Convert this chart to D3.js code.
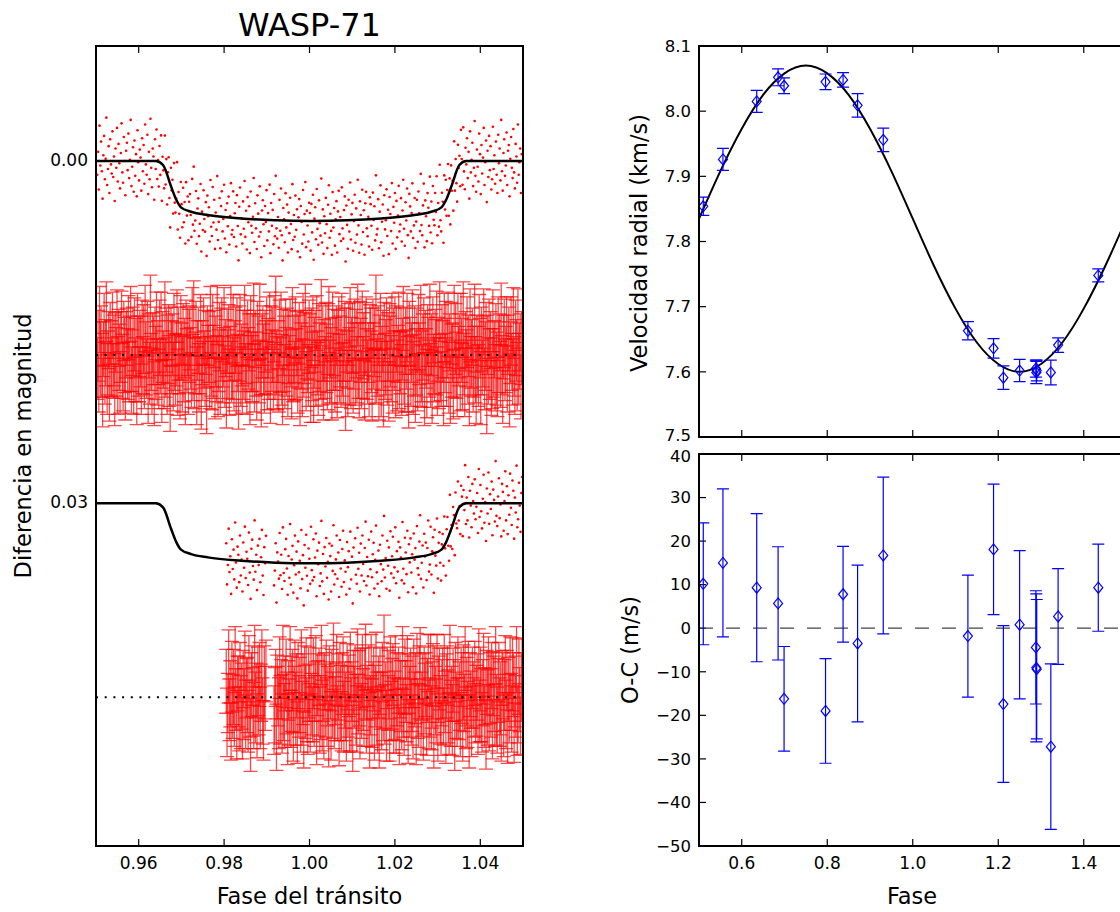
<!DOCTYPE html>
<html><head><meta charset="utf-8">
<script src="https://cdn.jsdelivr.net/npm/d3@7"></script>
<style>body{margin:0;background:#fff} svg{display:block} text{font-family:"DejaVu Sans",sans-serif;fill:#000}</style>
</head><body><svg id="c" width="1120" height="912"></svg>
<script>
// ---------------- DATA ----------------
// Left panel: transit model (phase, magnitude difference)
const modelPhase = [0.950,0.9640,0.9657,0.9676,0.9688,0.9699,0.9723,0.9762,0.9840,0.9920,1.0004,1.0088,1.0168,1.0246,1.0285,1.0309,1.0320,1.0332,1.0351,1.0367,1.050];
const modelMag   = [0,0,0.00035,0.00225,0.0034,0.00406,0.00445,0.00474,0.00503,0.0052,0.00526,0.0052,0.00503,0.00474,0.00445,0.00406,0.0034,0.00225,0.00035,0,0];
const curveOffsets = [0, 0.03];          // vertical offsets of the two light curves
const residOffsets = [0.017, 0.047];     // dotted reference lines of the residual bands
// phase coverage of each light curve (segments)
const topSegments = [[0.9503, 1.0497]];
const lowSegments = [[0.9805, 0.9898], [0.9917, 1.0498]];
// residuals (units of 1e-4 mag), read as scatter about the model
const topResid = [
12,-8,25,-31,4,-17,9,33,-5,-22,16,-2,-38,21,7,-13,28,-19,3,11,
-26,14,-4,35,-11,6,-29,18,-15,2,24,-7,-33,10,19,-21,0,30,-9,-16,
8,-24,15,-1,-36,22,5,-12,27,-18,13,-6,31,-27,1,17,-10,-3,26,-20,
9,-14,20,-32,3,12,-23,29,-8,16,-37,6,23,-11,-4,34,-19,7,-28,15,
-2,21,-15,10,-25,32,-7,4,18,-30,11,-13,25,-5,-20,14,38,-16,2,-9,
19,-27,6,13,-1,-34,24,-10,8,28,-22,-3,17,-18,12,-6,30,-24,5,-12,
26,-8,-15,3,22,-29,11,-40,16,7,-19,27,-4,-13,20,9,-26,33,-2,14,
-21,4,15,-11,36,-17,1,-7,23,-31,10,18,-25,6,-14,29,-3,12,-35,21,
5,-16,28,-9,-22,13,2,-28,19,-6,31,-12,8,-18,24,-1,-30,15,11,-23,
17,-4,-13,25,-20,7,37,-10,-27,14,0,22,-15,9,-33,16,-7,27,-19,3,
-11,30,-24,6,12,-2,-36,20,-14,8,26,-21,-5,15,-29,11,33,-8,-17,4,
23,-12,2,-26,18,-6,10,-31,29,-15,5,-9,21,-23,14,-39,7,16,-3,24,
-18,9,-28,13,35,-11,-1,19,-24,6,-14,28,-7,11,-20,3,25,-32,17,-5,
14,-22,8,-10,27,-3,-19,32,-13,1,20,-27,12,-6,-34,23,-9,4,18,-16,
-7,26,-15,10,-23,34,-2,-12,16,-28,7,21,-18,2,13,-37,19,-10,29,-4,
11,-20,3,24,-14,-31,15,-6,9,30,-25,6,-11,22,-1,-17,28,-8,-26,12,
-3,18,-29,7,16,-9,-21,36,-13,4,25,-18,10,-33,17,-5,-15,27,1,-22,
20,-10,13,-35,5,29,-16,-4,22,-26,11,-8,31,-14,-24,8,15,-2,24,-19,
-13,6,27,-23,1,-11,19,-38,14,9,-17,26,-6,-29,21,3,-12,33,-20,10,
2,-25,16,-7,32,-18,-3,12,-30,23,-9,5,-21,28,-14,18,-1,-27,13,7,
-16,22,-5,-32,11,26,-12,4,-24,17,37,-19,-8,14,-2,-28,20,9,-15,29,
6,-13,24,-20,-1,15,-35,10,19,-7,-26,30,-11,3,25,-17,-4,12,-31,18,
-9,28,-22,8,13,-15,2,-29,23,-5,16,-38,11,21,-12,-3,34,-24,7,-18,
15,-6,-27,20,-11,31,-19,5,-2,26,-33,12,-14,9,27,-21,1,-8,19,-30,
-4,19,-31,8,24,-12,3,-20,15,-8,33,-26,10,-1,-16,22,6,-35,13,27,
-10,5,18,-24,-6,29,-14,11,-3,-29,21,1,-18,36,-9,14,-22,8,-13,25,
16,-30,7,-5,20,-17,12,28,-23,2,-11,17,-36,9,26,-7,-19,13,4,-25,
21,-9,-14,31,-2,-21,6,15,-28,10,24,-15,-4,19,-32,12,1,-11,28,-6];
const topErr = [
27,31,25,29,33,26,28,30,24,32,27,29,26,31,28,25,30,27,33,26,
29,24,31,27,26,30,28,34,25,29,27,31,23,28,30,26,33,27,29,25,
31,28,26,33,24,29,27,30,25,32,28,26,30,27,35,24,29,31,26,28,
25,30,27,29,32,26,24,31,28,27,33,25,29,26,30,28,23,32,27,29,
28,26,33,24,30,27,31,25,29,34,26,28,27,30,24,31,29,26,32,27,
30,27,25,31,28,23,29,32,26,28,30,25,33,27,29,26,31,24,28,30,
26,32,28,27,24,30,29,25,31,27,28,34,26,29,30,25,27,32,28,26,
29,25,30,28,33,26,27,31,24,29,26,30,28,32,25,27,31,29,26,33,
27,30,24,32,28,29,26,31,27,25,33,28,30,26,29,24,31,27,28,30,
32,26,29,27,30,25,28,33,26,31,27,29,24,30,28,26,32,25,29,27,
25,31,28,26,29,34,27,30,25,28,31,26,29,27,33,24,30,28,26,31,
28,27,32,25,30,26,29,24,31,28,27,33,26,29,25,30,28,32,27,26,
30,24,27,31,26,29,33,28,25,30,27,26,32,28,29,25,31,27,24,29,
26,29,31,28,24,32,27,30,26,29,34,27,25,31,28,26,30,29,27,32,
29,33,26,30,28,25,31,27,29,24,28,32,27,30,26,29,25,33,28,27,
27,26,30,24,31,29,28,26,33,27,30,25,29,28,32,26,27,31,25,30,
31,28,25,29,27,32,26,30,28,25,29,27,34,26,30,28,31,24,29,27,
24,30,29,27,33,26,31,28,25,30,27,29,26,32,27,31,28,26,30,25,
28,27,31,26,29,30,24,32,28,27,26,31,29,25,33,28,27,30,26,29,
33,25,28,30,26,27,31,29,24,28,32,26,30,27,29,31,25,28,34,27,
26,31,27,28,32,24,29,26,30,33,27,28,25,31,26,29,32,27,28,30,
29,28,25,33,27,30,26,31,27,29,24,32,28,26,30,27,29,25,31,28,
27,32,29,26,28,25,33,27,30,28,31,26,29,24,32,27,28,30,26,29,
30,26,28,31,25,29,27,32,26,30,28,25,31,29,27,33,26,28,30,24,
28,29,33,27,30,26,25,31,28,27,29,32,26,30,25,28,31,27,29,33,
25,30,27,29,26,32,28,24,31,29,27,30,28,33,26,29,27,31,25,28,
31,27,30,25,29,28,32,26,28,31,25,29,27,26,34,28,30,27,29,26,
29,26,28,32,27,30,25,29,31,26,28,33,27,30,26,31,29,25,28,32];
const lowResid = [
-14,22,5,-27,11,-3,30,-18,8,-9,17,-33,2,24,-12,-5,19,-22,13,-1,
27,-16,6,-30,15,-8,-2,21,-25,10,33,-11,-19,4,16,-36,9,-6,25,-14,
3,-20,18,-4,-28,12,29,-13,1,-23,20,7,-17,35,-9,-1,14,-26,11,-7,
23,-31,9,16,-12,-21,5,28,-6,13,-34,19,-3,-15,26,2,-24,10,-10,31,
-19,8,-2,22,-29,14,-7,37,-16,4,-25,11,24,-13,-4,18,-32,6,15,-21,
12,-5,-26,29,-11,1,-18,20,9,-37,16,-8,27,-14,3,-22,13,-1,32,-17,
-6,25,-15,7,-33,19,10,-3,-24,14,-9,30,-20,5,21,-12,-28,17,-2,8,
28,-18,4,-10,23,-27,15,-5,36,-13,0,-21,11,19,-30,6,-8,26,-16,12,
-23,2,17,-12,-35,21,-4,13,-19,29,7,-26,14,-6,-16,24,-1,-31,10,20,
-9,31,-14,3,18,-22,8,-39,15,-2,25,-17,5,-11,27,-25,12,-3,-20,16,
7,-28,21,-7,11,-15,34,-10,-1,19,-32,9,22,-18,-5,14,-24,30,-12,4,
-17,13,-3,26,-21,2,-8,32,-27,10,16,-13,-36,20,6,-9,28,-19,1,-11,
22,-6,-30,15,9,-24,18,-2,-14,35,-20,3,12,-29,24,-7,-16,11,27,-4,
-12,17,-25,4,29,-10,-19,8,23,-33,14,-3,20,-15,-6,31,-22,7,13,-26,
10,-1,24,-18,-8,27,-13,5,-34,18,-5,15,-23,30,-11,2,21,-17,-2,9,
-21,14,3,-9,26,-30,12,-16,7,22,-4,-25,17,-1,33,-13,9,-27,18,-8,
5,-19,28,-12,-3,16,-37,11,20,-6,-22,13,1,29,-17,-10,24,-2,-28,15,
-15,27,-7,10,-26,4,19,-20,-11,31,-5,8,-33,21,14,-18,2,25,-9,-23];
const lowErr = [
28,30,26,32,27,29,25,31,28,33,26,29,27,30,24,31,28,26,32,29,
27,25,31,28,30,26,33,27,29,25,32,28,26,30,29,27,31,24,28,30,
30,28,27,25,31,29,26,32,28,27,30,33,25,29,28,26,31,27,30,26,
26,32,29,28,24,30,27,31,26,29,28,25,33,27,30,29,26,32,28,27,
29,27,33,26,30,28,31,25,29,32,27,28,26,31,25,30,29,27,24,31,
31,26,28,30,27,33,25,29,28,26,31,29,27,25,32,28,30,26,29,28,
25,30,27,29,32,26,28,27,31,24,29,30,28,33,26,27,25,31,29,30,
28,29,31,27,25,30,32,26,29,28,27,25,31,29,30,26,33,28,27,24,
32,27,26,31,29,28,24,30,27,33,26,29,30,25,28,31,27,26,32,29,
27,31,29,25,28,26,30,33,26,29,31,27,24,30,29,28,26,31,27,33,
30,26,28,32,27,29,25,28,31,27,30,26,29,33,27,25,30,28,26,31,
26,29,33,28,30,24,31,27,29,26,28,32,25,30,28,29,27,25,31,28,
29,28,25,30,26,31,28,29,33,27,25,30,28,26,32,29,27,30,24,29,
31,25,30,27,29,28,26,32,27,30,29,24,31,28,27,33,26,29,30,27,
27,30,28,26,31,29,33,25,28,27,30,29,26,32,28,25,31,27,29,26,
28,26,31,29,24,30,27,28,32,26,29,31,27,25,30,28,33,26,29,31,
30,29,26,28,33,27,25,31,29,28,26,30,32,27,24,29,28,31,26,30,
26,31,28,30,27,25,29,32,28,26,31,27,29,30,26,33,28,25,30,29];
const leftXTicks = [0.96, 0.98, 1.00, 1.02, 1.04];
const leftYTicks = [0.00, 0.03];

// Right panels: radial velocities
const rvPhase = [0.510,0.556,0.635,0.685,0.699,0.796,0.837,0.871,0.931,1.129,1.189,1.212,1.250,1.288,1.289,1.290,1.323,1.340,1.434];
const rvVel   = [7.854,7.926,8.015,8.052,8.039,8.045,8.048,8.009,7.956,7.663,7.636,7.591,7.602,7.605,7.599,7.602,7.599,7.641,7.748];
const rvOC    = [10.2,15.0,9.3,5.7,-16.2,-19.0,7.8,-3.5,16.7,-1.8,18.1,-17.4,0.8,-4.4,-9.1,-9.4,-27.2,2.7,9.3];
const rvErr   = [14,17,17,13,12,12,11,18,18,14,15,18,17,13,17,16,19,11,10]; // m/s
const rvModelPhase = [0.50,0.55,0.60,0.65,0.70,0.75,0.80,0.85,0.90,0.95,1.00,1.05,1.10,1.15,1.20,1.25,1.30,1.35,1.40,1.45,1.50];
const rvModelVel   = [7.835,7.908,7.973,8.025,8.058,8.070,8.058,8.025,7.973,7.908,7.835,7.762,7.697,7.645,7.612,7.600,7.612,7.645,7.697,7.762,7.835];
const rightXTicks = [0.6, 0.8, 1.0, 1.2, 1.4];
const rvYTicks = [7.5, 7.6, 7.7, 7.8, 7.9, 8.0, 8.1];
const ocYTicks = [-50, -40, -30, -20, -10, 0, 10, 20, 30, 40];

// ---------------- DRAWING ----------------
const svg = d3.select("#c");
const defs = svg.append("defs");
const TICK = 7;

// Left panel geometry
const L = {x0: 96, x1: 523, y0: 46, y1: 846};
const xL = d3.scaleLinear().domain([0.95, 1.05]).range([L.x0, L.x1]);
const yL = d3.scaleLinear().domain([0, 0.03]).range([161, 503.3]);
const model = d3.scaleLinear().domain(modelPhase).range(modelMag).clamp(true);

defs.append("clipPath").attr("id","clipL").append("rect")
  .attr("x",L.x0).attr("y",L.y0).attr("width",L.x1-L.x0).attr("height",L.y1-L.y0);

function phases(segments, n){
  const lens = segments.map(s => s[1]-s[0]);
  const tot = d3.sum(lens);
  const out = [];
  let used = 0;
  segments.forEach((s,k) => {
    const cnt = k === segments.length-1 ? n-used : Math.round(n*lens[k]/tot);
    used += cnt;
    const sc = d3.scaleLinear().domain([0, cnt-1]).range(s);
    for (let i=0;i<cnt;i++) out.push(sc(i));
  });
  return out;
}
const topP = phases(topSegments, topResid.length);
const lowP = phases(lowSegments, lowResid.length);

const sets = [
  {p: topP, r: topResid, e: topErr, off: curveOffsets[0], roff: residOffsets[0]},
  {p: lowP, r: lowResid, e: lowErr, off: curveOffsets[1], roff: residOffsets[1]}
];

const gL = svg.append("g").attr("clip-path","url(#clipL)");

// residual bands with error bars
sets.forEach(s => {
  const g = gL.append("g").attr("stroke","#ff0000").attr("stroke-opacity",0.72).attr("fill","none");
  s.p.forEach((p,i) => {
    const x = xL(p), yc = s.roff + s.r[i]*1e-4, e = s.e[i]*1e-4;
    const ya = yL(yc - e), yb = yL(yc + e);
    g.append("path").attr("stroke-width",1.3)
      .attr("d", `M${x},${ya}V${yb}M${x-7},${ya}H${x+7}M${x-7},${yb}H${x+7}`);
  });
});
// dotted reference lines
residOffsets.forEach(o => {
  gL.append("line").attr("x1",L.x0).attr("x2",L.x1).attr("y1",yL(o)).attr("y2",yL(o))
    .attr("stroke","#000").attr("stroke-width",2).attr("stroke-dasharray","2,6.7");
});
// photometric points
sets.forEach(s => {
  gL.append("g").attr("fill","#ff0000").selectAll("circle").data(s.p).join("circle")
    .attr("cx", p => xL(p))
    .attr("cy", (p,i) => yL(s.off + model(p) + s.r[i]*1e-4))
    .attr("r", 1.3);
});
// model curves
const tline = d3.line().curve(d3.curveMonotoneX);
curveOffsets.forEach(o => {
  gL.append("path").attr("fill","none").attr("stroke","#000").attr("stroke-width",2.5)
    .attr("d", tline(modelPhase.map((p,i) => [xL(p), yL(modelMag[i]+o)])));
});

// Left frame & ticks
svg.append("rect").attr("x",L.x0).attr("y",L.y0).attr("width",L.x1-L.x0).attr("height",L.y1-L.y0)
  .attr("fill","none").attr("stroke","#000").attr("stroke-width",2);
const tk = svg.append("g").attr("stroke","#000").attr("stroke-width",1.2);
leftXTicks.forEach(t => {
  const x = xL(t);
  tk.append("line").attr("x1",x).attr("x2",x).attr("y1",L.y1).attr("y2",L.y1-TICK);
  tk.append("line").attr("x1",x).attr("x2",x).attr("y1",L.y0).attr("y2",L.y0+TICK);
  svg.append("text").attr("x",x).attr("y",L.y1+23).attr("text-anchor","middle")
    .attr("font-size",17).text(d3.format(".2f")(t));
});
leftYTicks.forEach(t => {
  const y = yL(t);
  tk.append("line").attr("x1",L.x0).attr("x2",L.x0+TICK).attr("y1",y).attr("y2",y);
  tk.append("line").attr("x1",L.x1).attr("x2",L.x1-TICK).attr("y1",y).attr("y2",y);
  svg.append("text").attr("x",L.x0-8).attr("y",y-1).attr("dy","0.35em").attr("text-anchor","end")
    .attr("font-size",17).text(d3.format(".2f")(t));
});
svg.append("text").attr("x",309.5).attr("y",36).attr("text-anchor","middle").attr("font-size",32).text("WASP-71");
svg.append("text").attr("x",309.5).attr("y",904).attr("text-anchor","middle").attr("font-size",22.5).text("Fase del tránsito");
svg.append("text").attr("transform","translate(31,446) rotate(-90)").attr("text-anchor","middle").attr("font-size",22.5).text("Diferencia en magnitud");

// Right panels
const R = {x0: 699, x1: 1126.5};
const T = {y0: 46, y1: 437};
const B = {y0: 454, y1: 846};
const xR = d3.scaleLinear().domain([0.5, 1.5]).range([R.x0, R.x1]);
const yRV = d3.scaleLinear().domain([7.5, 8.1]).range([T.y1, T.y0]);
const yOC = d3.scaleLinear().domain([-50, 40]).range([B.y1, B.y0]);

defs.append("clipPath").attr("id","clipT").append("rect").attr("x",R.x0).attr("y",T.y0).attr("width",R.x1-R.x0).attr("height",T.y1-T.y0);
defs.append("clipPath").attr("id","clipB").append("rect").attr("x",R.x0).attr("y",B.y0).attr("width",R.x1-R.x0).attr("height",B.y1-B.y0);

const BLUE = "#0000ff";
function diamond(x,y){ return `M${x},${y-5.5}L${x+4.5},${y}L${x},${y+5.5}L${x-4.5},${y}Z`; }
function errbar(g, x, ya, yb){
  g.append("path").attr("d",`M${x},${ya}V${yb}M${x-6},${ya}H${x+6}M${x-6},${yb}H${x+6}`)
    .attr("stroke",BLUE).attr("stroke-width",1.2).attr("fill","none");
}

// RV panel
const gT = svg.append("g").attr("clip-path","url(#clipT)");
gT.append("path").attr("fill","none").attr("stroke","#000").attr("stroke-width",2)
  .attr("d", d3.line().curve(d3.curveNatural)(rvModelPhase.map((p,i)=>[xR(p), yRV(rvModelVel[i])])));
rvPhase.forEach((p,i) => {
  const e = rvErr[i]/1000;
  errbar(gT, xR(p), yRV(rvVel[i]+e), yRV(rvVel[i]-e));
  gT.append("path").attr("d", diamond(xR(p), yRV(rvVel[i]))).attr("fill","none").attr("stroke",BLUE).attr("stroke-width",1.2);
});

// O-C panel
const gB = svg.append("g").attr("clip-path","url(#clipB)");
gB.append("line").attr("x1",R.x0).attr("x2",R.x1).attr("y1",yOC(0)).attr("y2",yOC(0))
  .attr("stroke","#444").attr("stroke-width",1.2).attr("stroke-dasharray","14,13");
rvPhase.forEach((p,i) => {
  errbar(gB, xR(p), yOC(rvOC[i]+rvErr[i]), yOC(rvOC[i]-rvErr[i]));
  gB.append("path").attr("d", diamond(xR(p), yOC(rvOC[i]))).attr("fill","none").attr("stroke",BLUE).attr("stroke-width",1.2);
});

// frames
[T,B].forEach(P => {
  svg.append("rect").attr("x",R.x0).attr("y",P.y0).attr("width",R.x1-R.x0).attr("height",P.y1-P.y0)
    .attr("fill","none").attr("stroke","#000").attr("stroke-width",2);
  rightXTicks.forEach(t => {
    const x = xR(t);
    tk.append("line").attr("x1",x).attr("x2",x).attr("y1",P.y1).attr("y2",P.y1-TICK);
    tk.append("line").attr("x1",x).attr("x2",x).attr("y1",P.y0).attr("y2",P.y0+TICK);
  });
});
rvYTicks.forEach(t => {
  const y = yRV(t);
  tk.append("line").attr("x1",R.x0).attr("x2",R.x0+TICK).attr("y1",y).attr("y2",y);
  svg.append("text").attr("x",R.x0-8).attr("y", t === 7.5 ? y-2 : y).attr("dy","0.35em").attr("text-anchor","end")
    .attr("font-size",16.5).text(d3.format(".1f")(t));
});
ocYTicks.forEach(t => {
  const y = yOC(t);
  tk.append("line").attr("x1",R.x0).attr("x2",R.x0+TICK).attr("y1",y).attr("y2",y);
  svg.append("text").attr("x",R.x0-8).attr("y", t === 40 ? y+2 : y).attr("dy","0.35em").attr("text-anchor","end")
    .attr("font-size",16.5).text(t < 0 ? "\u2212" + Math.abs(t) : String(t));
});
rightXTicks.forEach(t => {
  svg.append("text").attr("x",xR(t)).attr("y",B.y1+23).attr("text-anchor","middle")
    .attr("font-size",17).text(d3.format(".1f")(t));
});
svg.append("text").attr("x",912).attr("y",904).attr("text-anchor","middle").attr("font-size",22.5).text("Fase");
svg.append("text").attr("transform","translate(647,243) rotate(-90)").attr("text-anchor","middle").attr("font-size",22.5).text("Velocidad radial (km/s)");
svg.append("text").attr("transform","translate(638,650) rotate(-90)").attr("text-anchor","middle").attr("font-size",22.5).text("O-C (m/s)");
</script></body></html>
